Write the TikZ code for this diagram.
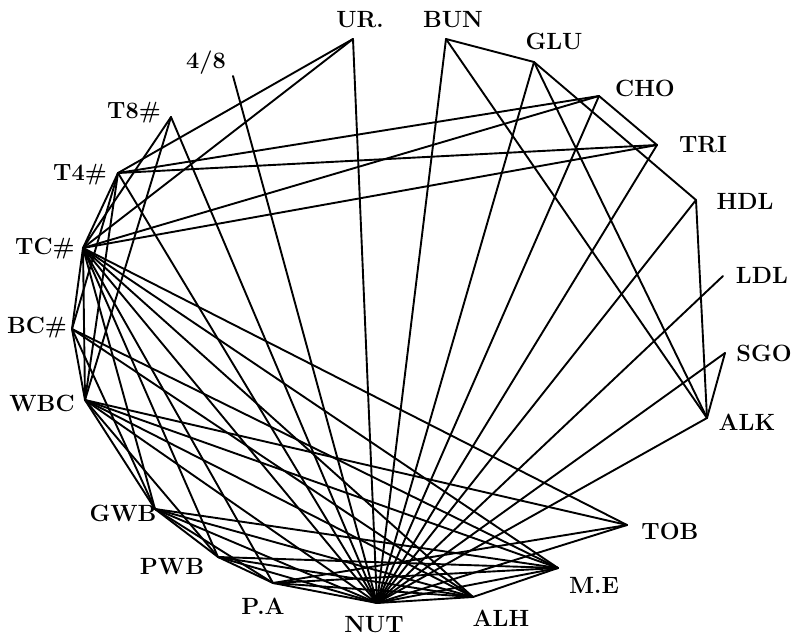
\documentclass[tikz,border=0pt]{standalone}
\begin{document}
\begin{tikzpicture}[x=1pt,y=-1pt,
  edge/.style={line width=1.9pt, line cap=round, line join=round},
  lab/.style={font=\fontsize{23.5}{25}\selectfont\bfseries, inner sep=0pt}]
\useasboundingbox[fill=white] (0,0) rectangle (797,639);
% vertices
\coordinate (UR) at (353,39);
\coordinate (F8) at (233,76);
\coordinate (BUN) at (446,39);
\coordinate (GLU) at (534,62);
\coordinate (CHO) at (599,96);
\coordinate (TRI) at (657,145);
\coordinate (HDL) at (696,200);
\coordinate (LDL) at (723,276);
\coordinate (SGO) at (725,353);
\coordinate (ALK) at (707,418);
\coordinate (TOB) at (627,525);
\coordinate (ME) at (558,568);
\coordinate (ALH) at (473,597);
\coordinate (NUT) at (377,603);
\coordinate (PA) at (273,583);
\coordinate (PWB) at (218,557);
\coordinate (GWB) at (155,509);
\coordinate (WBC) at (85,400);
\coordinate (BC) at (72,329);
\coordinate (TC) at (83,248);
\coordinate (T4) at (118,173);
\coordinate (T8) at (171,117);
% labels
\node[lab] (lUR) at (360,20) {UR.};
\node[lab] (lF8) at (206,63) {4/8};
\node[lab] (lBUN) at (453,20) {BUN};
\node[lab] (lGLU) at (554,41) {GLU};
\node[lab] (lCHO) at (645,88) {CHO};
\node[lab] (lTRI) at (703,145) {TRI};
\node[lab] (lHDL) at (745,201) {HDL};
\node[lab] (lLDL) at (762,275) {LDL};
\node[lab] (lSGO) at (764,353) {SGO};
\node[lab] (lALK) at (747,422) {ALK};
\node[lab] (lTOB) at (670,531) {TOB};
\node[lab] (lME) at (594,585) {M.E};
\node[lab] (lALH) at (501,618) {ALH};
\node[lab] (lNUT) at (374,625) {NUT};
\node[lab] (lPA) at (263,606) {P.A};
\node[lab] (lPWB) at (172,567) {PWB};
\node[lab] (lGWB) at (123,513) {GWB};
\node[lab] (lWBC) at (42,403) {WBC};
\node[lab] (lBC) at (37,328) {BC\#};
\node[lab] (lTC) at (45,249) {TC\#};
\node[lab] (lT4) at (80,175) {T4\#};
\node[lab] (lT8) at (134,113) {T8\#};
% edges
\foreach \a/\b in {UR/T4,UR/TC,UR/NUT,F8/NUT,
  T8/TC,T8/WBC,T8/NUT,
  T4/TC,T4/BC,T4/WBC,T4/NUT,T4/CHO,T4/TRI,
  TC/CHO,TC/TRI,TC/BC,TC/WBC,TC/GWB,TC/PWB,TC/PA,TC/NUT,TC/ALH,TC/TOB,TC/ME,
  BC/WBC,BC/ME,BC/ALH,BC/GWB,
  WBC/GWB,WBC/PWB,WBC/NUT,WBC/ALH,WBC/ME,WBC/TOB,
  GWB/PWB,GWB/PA,GWB/NUT,GWB/ALH,GWB/ME,
  PWB/PA,PWB/NUT,PWB/ALH,PWB/ME,
  PA/NUT,PA/ALH,PA/ME,PA/TOB,
  NUT/ALH,NUT/ME,NUT/TOB,
  ALH/ME,
  BUN/GLU,BUN/NUT,BUN/ALK,
  GLU/HDL,GLU/NUT,GLU/ALK,
  CHO/TRI,CHO/NUT,TRI/NUT,
  HDL/NUT,HDL/ALK,LDL/NUT,
  SGO/ALK,SGO/NUT,ALK/NUT}
  \draw[edge] (\a) -- (\b);
\end{tikzpicture}
\end{document}
